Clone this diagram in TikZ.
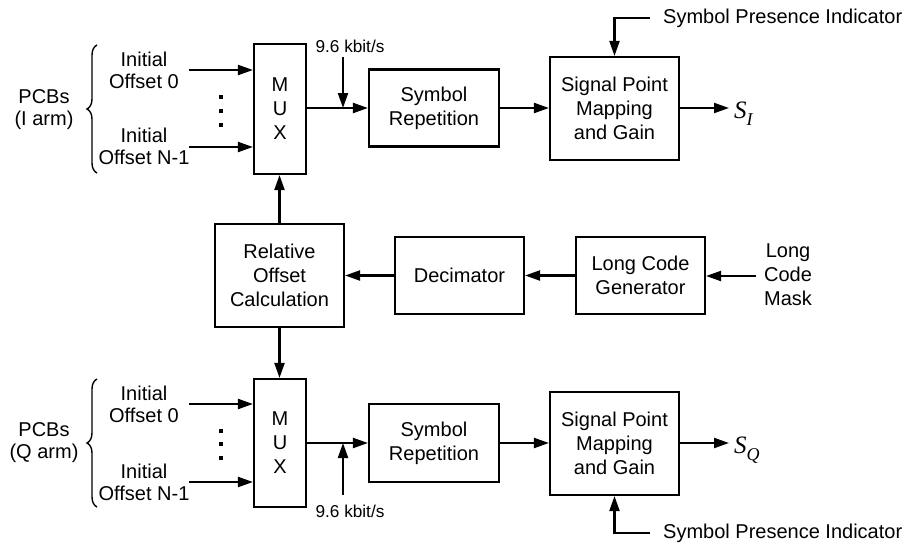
\documentclass[tikz,border=0pt]{standalone}
\usepackage{fontspec}
\setmainfont{Liberation Sans}
\newfontfamily\timesfont{Liberation Serif}
\usetikzlibrary{arrows.meta,decorations.pathreplacing}
\tikzset{
  txt/.style={inner sep=0pt,align=center,font=\fontsize{20}{22}\selectfont},
  small/.style={inner sep=0pt,font=\fontsize{17.2}{20}\selectfont},
  blk/.style={draw,line width=2.1pt,inner sep=0pt,align=center,font=\fontsize{20}{24}\selectfont},
  arr/.style={line width=2.1pt,-{Triangle[length=15pt,width=10pt]}},
  br/.style={line width=1.4pt,decorate,decoration={brace,amplitude=10pt}},
  sym/.style={inner sep=0pt,font=\fontsize{25}{26}\selectfont\timesfont\itshape}
}
\newcommand{\subtxt}[1]{\raisebox{-7pt}{\fontsize{18}{18}\selectfont #1}}
\begin{document}
\begin{tikzpicture}[x=1pt,y=-1pt]
\useasboundingbox (0,0) rectangle (905,543);
% blocks
\node[blk,minimum width=52pt,minimum height=130pt] (mux1) at (280,109) {M\\U\\X};
\node[blk,minimum width=130pt,minimum height=77pt] (sr1) at (434,108) {Symbol\\Repetition};
\node[blk,minimum width=129pt,minimum height=103pt] (spm1) at (614.5,108.5) {Signal Point\\Mapping\\and Gain};
\node[blk,minimum width=129pt,minimum height=103pt] (roc) at (279.5,275.5) {Relative\\Offset\\Calculation};
\node[blk,minimum width=129pt,minimum height=77pt] (dec) at (459.5,275.5) {Decimator};
\node[blk,minimum width=129pt,minimum height=77pt] (lcg) at (640.5,275.5) {Long Code\\Generator};
\node[blk,minimum width=52pt,minimum height=128pt] (mux2) at (280,443) {M\\U\\X};
\node[blk,minimum width=130pt,minimum height=78pt] (sr2) at (434,443) {Symbol\\Repetition};
\node[blk,minimum width=129pt,minimum height=103pt] (spm2) at (614.5,443.5) {Signal Point\\Mapping\\and Gain};
% left labels
\node[txt] (in0a) at (144,70) {Initial\\Offset 0};
\node[txt] (in1a) at (144,146) {Initial\\Offset N-1};
\node[txt] (pcba) at (44,110) {PCBs\\(I arm)};
\node[txt] (in0b) at (144,404) {Initial\\Offset 0};
\node[txt] (in1b) at (144,482) {Initial\\Offset N-1};
\node[txt] (pcbb) at (44,443) {PCBs\\(Q arm)};
\draw[br] (97,173) -- (97,45);
\draw[br] (97,507) -- (97,379);
\coordinate (s0a) at (189,70);
\coordinate (s1a) at (189,147);
\coordinate (s0b) at (189,404);
\coordinate (s1b) at (189,482);
\draw[arr] (s0a) -- (s0a -| mux1.west);
\draw[arr] (s1a) -- (s1a -| mux1.west);
\draw[arr] (s0b) -- (s0b -| mux2.west);
\draw[arr] (s1b) -- (s1b -| mux2.west);
\foreach \y in {97,111,125,431,444,458} \fill (219.2,\y-1.9) rectangle +(3.8,3.8);
% top chain
\draw[arr] (mux1.east |- sr1.west) -- (sr1.west);
\draw[arr] (sr1.east) -- (sr1.east -| spm1.west);
\coordinate (ra) at (343,57);
\draw[arr] (ra) -- (ra |- sr1.west);
\node[small,anchor=base] (rla) at (350,53) {9.6 kbit/s};
\coordinate (pa) at (650,18);
\draw[arr] (pa) -| (spm1.north);
\node[txt,anchor=west] (spia) at (663,18) {Symbol Presence Indicator};
\coordinate (oa) at (729,108);
\draw[arr] (spm1.east |- oa) -- (oa);
\node[sym,anchor=base west] (sia) at (734,118) {S\subtxt{I}};
% middle
\draw[arr] (roc.north) -- (roc.north |- mux1.south);
\draw[arr] (roc.south) -- (roc.south |- mux2.north);
\draw[arr] (dec.west) -- (roc.east);
\draw[arr] (lcg.west) -- (dec.east);
\node[txt,font=\fontsize{20}{24}\selectfont] (mask) at (788,275) {Long\\Code\\Mask};
\coordinate (ma) at (756,276);
\draw[arr] (ma) -- (ma -| lcg.east);
% bottom chain
\draw[arr] (mux2.east |- sr2.west) -- (sr2.west);
\draw[arr] (sr2.east) -- (sr2.east -| spm2.west);
\coordinate (rb) at (343,495);
\draw[arr] (rb) -- (rb |- sr2.west);
\node[small,anchor=base] (rlb) at (350,517) {9.6 kbit/s};
\coordinate (pb) at (650,533);
\draw[arr] (pb) -| (spm2.south);
\node[txt,anchor=west] (spib) at (663,533) {Symbol Presence Indicator};
\coordinate (ob) at (729,443);
\draw[arr] (spm2.east |- ob) -- (ob);
\node[sym,anchor=base west] (sqa) at (734,453) {S\subtxt{Q}};
\end{tikzpicture}
\end{document}
